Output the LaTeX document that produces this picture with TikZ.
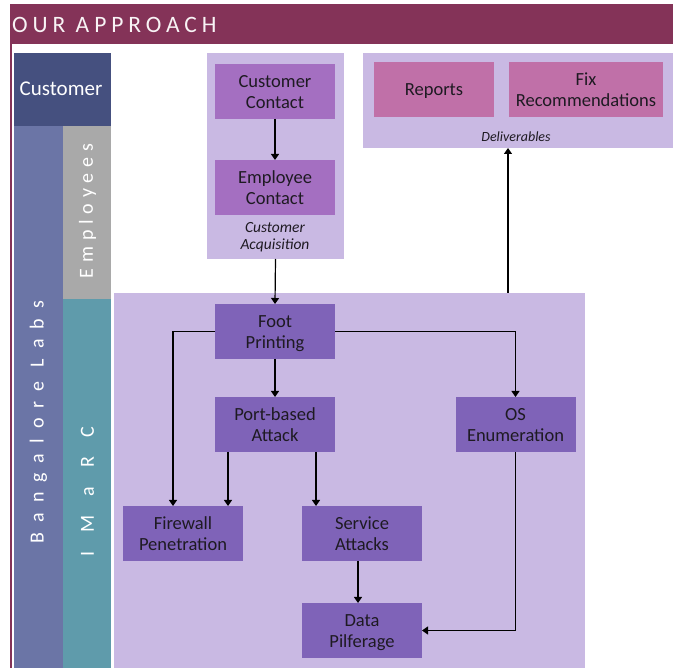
\documentclass[tikz,border=0pt]{standalone}
\usepackage{fontspec}
\setmainfont{Carlito}
\usetikzlibrary{arrows.meta}
\definecolor{hdr}{HTML}{843358}
\definecolor{custblue}{HTML}{45507F}
\definecolor{blrblue}{HTML}{6B75A6}
\definecolor{empgray}{HTML}{A9A9A9}
\definecolor{imteal}{HTML}{5F9BAB}
\definecolor{lightpurple}{HTML}{C9B9E3}
\definecolor{acqnode}{HTML}{A46FC1}
\definecolor{delnode}{HTML}{C070A8}
\definecolor{flownode}{HTML}{7F63B8}
\definecolor{txt}{HTML}{1E1A22}
\tikzset{
  container/.style={fill=lightpurple, inner sep=0pt, outer sep=0pt},
  boxbase/.style={inner sep=0pt, outer sep=0pt, minimum width=120pt, minimum height=55pt,
    align=center, text=txt, font=\fontsize{18.5}{21}\selectfont,
    text height=39pt, text depth=4pt},
  acqbox/.style={boxbase, fill=acqnode},
  delbox/.style={boxbase, fill=delnode},
  flowbox/.style={boxbase, fill=flownode},
  caption/.style={align=center, text=txt, inner sep=0pt},
  sidetext/.style={text=white, inner sep=0pt, rotate=90},
  arr/.style={-{Triangle[length=6pt,width=8pt]}, line width=1.2pt, black},
}
\begin{document}
\begin{tikzpicture}[x=1pt,y=-1pt]
\useasboundingbox (0,0) rectangle (673,668);
\fill[white] (0,0) rectangle (673,668);
% header
\fill[hdr] (10,4) rectangle (673,44);
\fill[hdr] (10,44) rectangle (11.5,668);
\node[anchor=base west, inner sep=0pt, text=white!94!hdr] (title) at (12,32.5)
  {\fontsize{23.5}{23.5}\selectfont\addfontfeature{LetterSpace=21}OUR APPROACH};
% left columns
\fill[custblue] (14,53) rectangle (111,126);
\fill[blrblue] (14,126) rectangle (62.5,668);
\fill[empgray] (62.5,126) rectangle (111,299);
\fill[imteal] (62.5,299) rectangle (111,668);
\node[text=white, inner sep=0pt] (custlbl) at (61,89) {\fontsize{21}{21}\selectfont Customer};
\node[sidetext] (emplbl) at (87.5,211) {\fontsize{20}{20}\selectfont\addfontfeature{LetterSpace=29}Employees};
\node[sidetext] (blrlbl) at (38.5,422) {\fontsize{20}{20}\selectfont\addfontfeature{LetterSpace=50}Bangalore Labs};
\node[sidetext] (imlbl) at (87.5,492) {\fontsize{20}{20}\selectfont\addfontfeature{LetterSpace=96}IMaRC};
% containers
\node[container, minimum width=137pt, minimum height=206pt] (ca) at (275.5,156) {};
\node[container, minimum width=310pt, minimum height=95pt] (dl) at (518,100.5) {};
\node[container, minimum width=471pt, minimum height=375pt] (big) at (349.5,480.5) {};
% customer acquisition
\node[acqbox] (cc) at (275,91.5) {Customer\\Contact};
\node[acqbox] (ec) at (275,187.5) {Employee\\Contact};
\node[caption, font=\fontsize{15.5}{17}\selectfont\itshape] (calbl) at (275,237) {Customer\\Acquisition};
% deliverables
\node[delbox, text height=17pt] (rep) at (434,89.5) {Reports};
\node[delbox, minimum width=154pt] (fix) at (586,89.5) {Fix\\Recommendations};
\node[caption, font=\fontsize{14}{16}\selectfont\itshape] (dllbl) at (516,137) {Deliverables};
% flow
\node[flowbox] (fp) at (275,331.5) {Foot\\Printing};
\node[flowbox] (pba) at (275,424.5) {Port-based\\Attack};
\node[flowbox] (os) at (515.5,424.5) {OS\\Enumeration};
\node[flowbox] (fw) at (183,533.5) {Firewall\\Penetration};
\node[flowbox] (sa) at (362,533.5) {Service\\Attacks};
\node[flowbox] (dp) at (362,630.5) {Data\\Pilferage};
% connectors
\draw[arr] (cc) -- (ec);
\draw[arr] (ca.south) -- (fp.north);
\draw[arr] (fp) -- (pba);
\draw[arr] (fp.west) -| ([xshift=-10pt]fw.north);
\draw[arr] ([xshift=-47pt]pba.south) -- ([xshift=-47pt]pba.south |- fw.north);
\draw[arr] ([xshift=41pt]pba.south) -- ([xshift=41pt]pba.south |- sa.north);
\draw[arr] (fp.east) -| (os.north);
\draw[arr] ([xshift=-4pt]sa.south) -- ([xshift=-4pt]dp.north);
\draw[arr] (os.south) |- (dp.east);
\draw[arr] ([xshift=-10pt]dl.south |- big.north) -- ([xshift=-10pt]dl.south);
\end{tikzpicture}
\end{document}
